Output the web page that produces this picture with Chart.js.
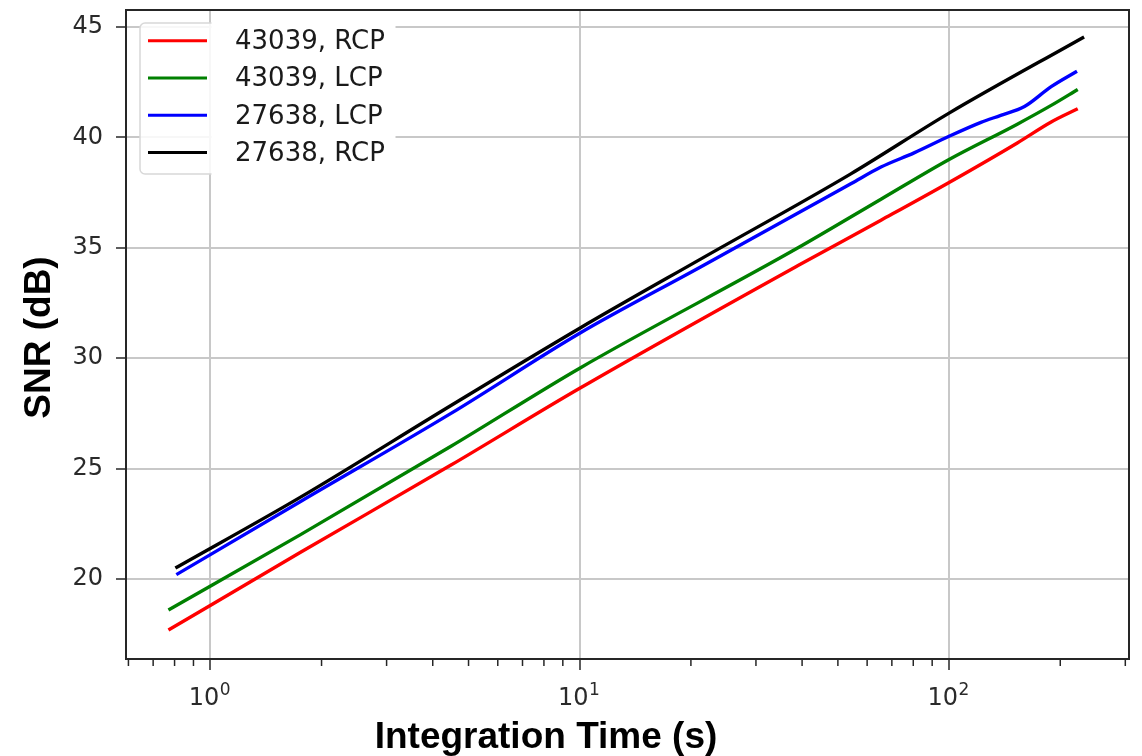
<!DOCTYPE html>
<html>
<head>
<meta charset="utf-8">
<script src="https://cdn.jsdelivr.net/npm/chart.js@4.4.1/dist/chart.umd.min.js"></script>
<style>
html,body{margin:0;padding:0;background:#ffffff;}
#wrap{width:1142px;height:756px;position:relative;}
</style>
</head>
<body>
<div id="wrap"><canvas id="c" width="1142" height="756"></canvas></div>
<script>
// ---- data ----
const seriesLabels = ['43039, RCP', '43039, LCP', '27638, LCP', '27638, RCP'];
const seriesColors = ['#ff0000', '#008000', '#0000ff', '#000000'];

const time43039 = [0.77, 1.75, 4.47, 10, 39, 65.4, 100, 153, 189, 223];
const snr43039RCP = [17.69, 21.2, 25.15, 28.64, 34.2, 36.25, 37.96, 39.75, 40.7, 41.3];
const snr43039LCP = [18.6, 22.0, 26.0, 29.55, 35.0, 37.2, 39.0, 40.6, 41.45, 42.17];

const time27638LCP = [0.809, 1.75, 4.47, 10, 21.3, 54.2, 65.4, 80.4, 100, 122, 138, 160, 189, 222];
const snr27638LCP = [20.2, 23.5, 27.49, 31.13, 34.14, 37.9, 38.66, 39.3, 40.05, 40.68, 41.0, 41.4, 42.3, 43.0];

const time27638RCP = [0.804, 1.75, 4.47, 10, 21.3, 54.2, 100, 232];
const snr27638RCP = [20.5, 23.7, 27.85, 31.36, 34.5, 38.35, 41.1, 44.55];

const yTickValues = [20, 25, 30, 35, 40, 45];
const xTickValues = [1, 10, 100];
const xTickBase = '10';
const xTickExponents = ['0', '1', '2'];
const xMinorTicks = [0.6, 0.7, 0.8, 0.9, 2, 3, 4, 5, 6, 7, 8, 9, 20, 30, 40, 50, 60, 70, 80, 90, 200, 300];
const xAxisTitle = 'Integration Time (s)';
const yAxisTitle = 'SNR (dB)';

function pts(xs, ys) { return xs.map((x, i) => ({ x: x, y: ys[i] })); }

const seriesData = [
  pts(time43039, snr43039RCP),
  pts(time43039, snr43039LCP),
  pts(time27638LCP, snr27638LCP),
  pts(time27638RCP, snr27638RCP)
];

const decorPlugin = {
  id: 'decor',
  afterDraw(chart) {
    const ctx = chart.ctx;
    const a = chart.chartArea;
    const xs = chart.scales.x;
    ctx.save();
    // minor ticks on x axis
    ctx.strokeStyle = '#262626';
    ctx.lineWidth = 1.5;
    xMinorTicks.forEach(v => {
      const px = xs.getPixelForValue(v);
      if (px < a.left - 0.5 || px > a.right + 0.5) return;
      ctx.beginPath();
      ctx.moveTo(px, a.bottom);
      ctx.lineTo(px, a.bottom + 7);
      ctx.stroke();
    });
    // x tick labels with superscript exponents
    ctx.fillStyle = '#2a2a2a';
    ctx.textBaseline = 'alphabetic';
    ctx.textAlign = 'left';
    xTickValues.forEach((v, i) => {
      const px = xs.getPixelForValue(v);
      ctx.font = '24px "DejaVu Sans"';
      const wb = ctx.measureText(xTickBase).width;
      ctx.font = '17px "DejaVu Sans"';
      const we = ctx.measureText(xTickExponents[i]).width;
      const x0 = px - (wb + we) / 2 - 1;
      ctx.font = '24px "DejaVu Sans"';
      ctx.fillText(xTickBase, x0, a.bottom + 46);
      ctx.font = '17px "DejaVu Sans"';
      ctx.fillText(xTickExponents[i], x0 + wb + 0.5, a.bottom + 36);
    });
    // legend frame
    const lx = a.left + 14, ly = a.top + 13, lw = 220, lh = 151;
    ctx.beginPath();
    if (ctx.roundRect) ctx.roundRect(lx, ly, lw, lh, 5); else ctx.rect(lx, ly, lw, lh);
    ctx.fillStyle = 'rgba(255,255,255,0.85)';
    ctx.fill();
    ctx.strokeStyle = '#d8d8d8';
    ctx.lineWidth = 1.5;
    ctx.stroke();
    // white pasted patch behind legend text
    ctx.fillStyle = '#ffffff';
    ctx.fillRect(a.left + 85.5, a.top + 2, 184, 168);
    // legend entries
    ctx.font = '26px "DejaVu Sans"';
    ctx.textBaseline = 'middle';
    ctx.textAlign = 'left';
    seriesLabels.forEach((lab, i) => {
      const yy = a.top + 30.7 + i * 37.3;
      ctx.strokeStyle = seriesColors[i];
      ctx.lineWidth = 3;
      ctx.beginPath();
      ctx.moveTo(a.left + 22, yy);
      ctx.lineTo(a.left + 81, yy);
      ctx.stroke();
      ctx.fillStyle = '#1a1a1a';
      ctx.fillText(lab, a.left + 109, yy + 1.5);
    });
    // plot frame
    ctx.strokeStyle = '#262626';
    ctx.lineWidth = 2;
    ctx.strokeRect(a.left, a.top, a.right - a.left, a.bottom - a.top);
    // axis titles
    ctx.fillStyle = '#000000';
    ctx.font = 'bold 37px "Liberation Sans", Arial, sans-serif';
    ctx.textAlign = 'center';
    ctx.textBaseline = 'alphabetic';
    ctx.fillText(xAxisTitle, a.left + 420, 748);
    ctx.translate(50, (a.top + a.bottom) / 2 + 3);
    ctx.rotate(-Math.PI / 2);
    ctx.fillText(yAxisTitle, 0, 0);
    ctx.restore();
  }
};

new Chart(document.getElementById('c'), {
  type: 'line',
  data: {
    datasets: seriesData.map((d, i) => ({
      label: seriesLabels[i],
      data: d,
      borderColor: seriesColors[i],
      backgroundColor: seriesColors[i],
      borderWidth: 3.4,
      pointRadius: 0,
      fill: false,
      cubicInterpolationMode: 'monotone',
      order: 3 - i
    }))
  },
  options: {
    responsive: false,
    animation: false,
    devicePixelRatio: 1,
    layout: { padding: { top: 10, right: 13, bottom: 0, left: 0 } },
    plugins: { legend: { display: false }, tooltip: { enabled: false }, title: { display: false } },
    scales: {
      x: {
        type: 'logarithmic',
        min: 0.591,
        max: 307,
        afterBuildTicks: s => { s.ticks = xTickValues.map(v => ({ value: v })); },
        afterFit: s => { s.height = 97; s.paddingLeft = 0; s.paddingRight = 0; },
        border: { display: false },
        grid: { color: '#c8c8c8', lineWidth: 2, drawTicks: true, tickLength: 11, tickColor: '#262626', tickWidth: 1.5 },
        ticks: {
          display: false,
          autoSkip: false,
          maxRotation: 0
        }
      },
      y: {
        type: 'linear',
        min: 16.38,
        max: 45.77,
        afterBuildTicks: s => { s.ticks = yTickValues.map(v => ({ value: v })); },
        afterFit: s => { s.width = 126; s.paddingTop = 0; s.paddingBottom = 0; },
        border: { display: false },
        grid: { color: '#c8c8c8', lineWidth: 2, drawTicks: true, tickLength: 10, tickColor: '#262626', tickWidth: 1.5 },
        ticks: {
          font: { family: 'DejaVu Sans', size: 24 },
          color: '#2a2a2a',
          padding: 13,
          callback: v => String(v)
        }
      }
    }
  },
  plugins: [decorPlugin]
});
</script>
</body>
</html>
